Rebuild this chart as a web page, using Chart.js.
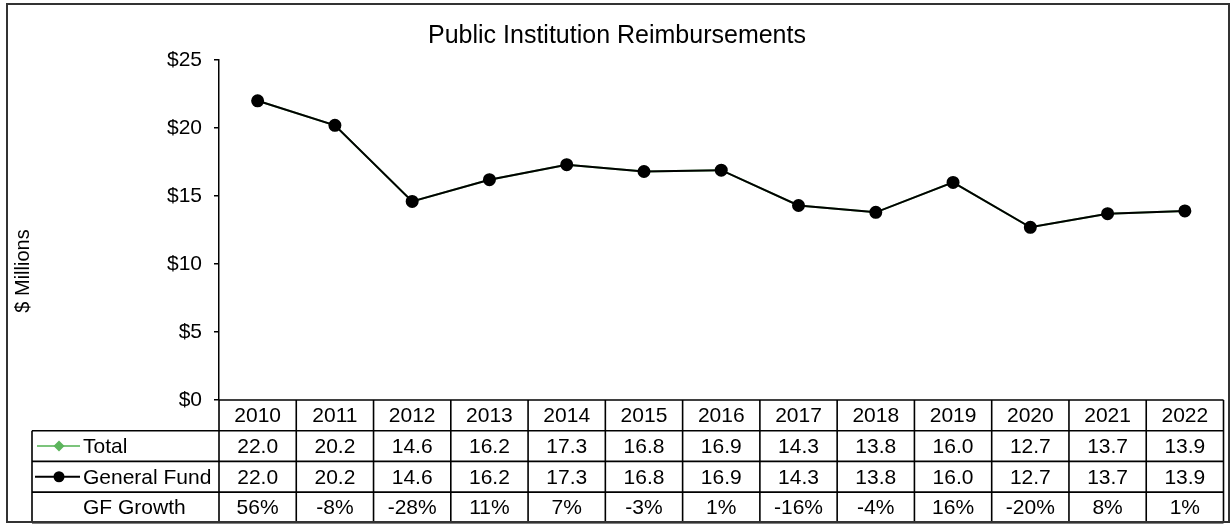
<!DOCTYPE html>
<html>
<head>
<meta charset="utf-8">
<script src="https://cdn.jsdelivr.net/npm/chart.js@4/dist/chart.umd.min.js"></script>
<style>
  html, body { margin: 0; padding: 0; background: #fff; }
  canvas { display: block; }
</style>
</head>
<body>
<canvas id="c" width="1231" height="525"></canvas>
<script>
const chartTitle = 'Public Institution Reimbursements';
const yAxisTitle = '$ Millions';
const years = ['2010','2011','2012','2013','2014','2015','2016','2017','2018','2019','2020','2021','2022'];
const totalValues = [22.0, 20.2, 14.6, 16.2, 17.3, 16.8, 16.9, 14.3, 13.8, 16.0, 12.7, 13.7, 13.9];
const generalFundValues = [22.0, 20.2, 14.6, 16.2, 17.3, 16.8, 16.9, 14.3, 13.8, 16.0, 12.7, 13.7, 13.9];
const gfGrowthValues = [56, -8, -28, 11, 7, -3, 1, -16, -4, 16, -20, 8, 1];
const seriesLabels = ['Total', 'General Fund', 'GF Growth'];
const yTicks = [0, 5, 10, 15, 20, 25];

const FONT = '"Liberation Sans", Arial, sans-serif';
const GREEN_LINE = '#7cc47c';
const GREEN_MARK = '#5cb45c';

const tablePlugin = {
  id: 'tablePlugin',
  beforeDraw(chart) {
    const ctx = chart.ctx;
    ctx.save();
    ctx.fillStyle = '#ffffff';
    ctx.fillRect(0, 0, chart.width, chart.height);
    ctx.restore();
  },
  afterDraw(chart) {
    const ctx = chart.ctx;
    const area = chart.chartArea;
    const xs = chart.scales.x;
    const n = years.length;
    const colW = (area.right - area.left) / n;
    const rowH = 30.7;
    const top = area.bottom;
    const rows = [top, top + rowH, top + 2 * rowH, top + 3 * rowH, top + 4 * rowH];
    const tableLeft = 32;

    ctx.save();
    ctx.strokeStyle = '#000';
    ctx.lineWidth = 1.6;
    ctx.beginPath();
    ctx.moveTo(area.left, rows[0]); ctx.lineTo(area.right, rows[0]);
    for (let r = 1; r < rows.length; r++) {
      ctx.moveTo(tableLeft, rows[r]); ctx.lineTo(area.right, rows[r]);
    }
    for (let i = 0; i <= n; i++) {
      const x = area.left + i * colW;
      ctx.moveTo(x, rows[0]); ctx.lineTo(x, rows[4]);
    }
    ctx.moveTo(tableLeft, rows[1]); ctx.lineTo(tableLeft, rows[4]);
    ctx.stroke();

    ctx.fillStyle = '#000';
    ctx.font = '21px ' + FONT;
    ctx.textAlign = 'center';
    ctx.textBaseline = 'middle';
    for (let i = 0; i < n; i++) {
      const cx = xs.getPixelForValue(i);
      ctx.fillText(years[i], cx, (rows[0] + rows[1]) / 2 + 1);
      ctx.fillText(totalValues[i].toFixed(1), cx, (rows[1] + rows[2]) / 2 + 1);
      ctx.fillText(generalFundValues[i].toFixed(1), cx, (rows[2] + rows[3]) / 2 + 1);
      ctx.fillText(gfGrowthValues[i] + '%', cx, (rows[3] + rows[4]) / 2 + 1);
    }

    ctx.textAlign = 'left';
    const labelX = 83;
    for (let r = 0; r < 3; r++) {
      const cy = (rows[r + 1] + rows[r + 2]) / 2;
      ctx.fillText(seriesLabels[r], labelX, cy + 1);
    }
    let cy = (rows[1] + rows[2]) / 2;
    ctx.strokeStyle = GREEN_LINE; ctx.lineWidth = 2;
    ctx.beginPath(); ctx.moveTo(37, cy); ctx.lineTo(80, cy); ctx.stroke();
    ctx.fillStyle = GREEN_MARK;
    ctx.beginPath();
    ctx.moveTo(59, cy - 5.5); ctx.lineTo(64.5, cy); ctx.lineTo(59, cy + 5.5); ctx.lineTo(53.5, cy); ctx.closePath(); ctx.fill();
    cy = (rows[2] + rows[3]) / 2;
    ctx.strokeStyle = '#000'; ctx.lineWidth = 2;
    ctx.beginPath(); ctx.moveTo(35, cy); ctx.lineTo(80, cy); ctx.stroke();
    ctx.fillStyle = '#000';
    ctx.beginPath(); ctx.arc(59, cy, 5.5, 0, Math.PI * 2); ctx.fill();

    ctx.fillStyle = '#000';
    ctx.font = '25px ' + FONT;
    ctx.textAlign = 'center';
    ctx.textBaseline = 'middle';
    ctx.fillText(chartTitle, 617, 36);

    ctx.save();
    ctx.translate(23, 271);
    ctx.rotate(-Math.PI / 2);
    ctx.font = '20px ' + FONT;
    ctx.fillText(yAxisTitle, 0, 0);
    ctx.restore();

    ctx.strokeStyle = '#333';
    ctx.lineWidth = 2;
    ctx.strokeRect(7, 4, 1222, 518);
    ctx.restore();
  }
};

new Chart(document.getElementById('c'), {
  type: 'line',
  data: {
    labels: years,
    datasets: [
      {
        label: seriesLabels[0],
        data: totalValues,
        borderColor: GREEN_LINE,
        backgroundColor: GREEN_MARK,
        pointStyle: 'rectRot',
        pointRadius: 5,
        borderWidth: 2,
        order: 2
      },
      {
        label: seriesLabels[1],
        data: generalFundValues,
        borderColor: '#000',
        backgroundColor: '#000',
        pointBackgroundColor: '#000',
        pointBorderColor: '#000',
        pointStyle: 'circle',
        pointRadius: 5.5,
        borderWidth: 2,
        order: 1
      }
    ]
  },
  options: {
    responsive: false,
    animation: false,
    devicePixelRatio: 1,
    layout: { padding: { left: 0, top: 60, right: 7, bottom: 125 } },
    plugins: {
      legend: { display: false },
      title: { display: false },
      tooltip: { enabled: false }
    },
    scales: {
      x: {
        type: 'category',
        offset: true,
        display: false
      },
      y: {
        min: 0,
        max: 25,
        afterBuildTicks(scale) { scale.ticks = yTicks.map(v => ({ value: v })); },
        afterFit(scale) { scale.width = 219; },
        ticks: {
          color: '#000',
          font: { size: 21, family: FONT },
          padding: 12,
          callback: v => '$' + v
        },
        grid: {
          drawOnChartArea: false,
          drawTicks: true,
          tickLength: 5,
          color: '#000',
          lineWidth: 1.5
        },
        border: { display: true, color: '#000', width: 1.5 }
      }
    }
  },
  plugins: [tablePlugin]
});
</script>
</body>
</html>
